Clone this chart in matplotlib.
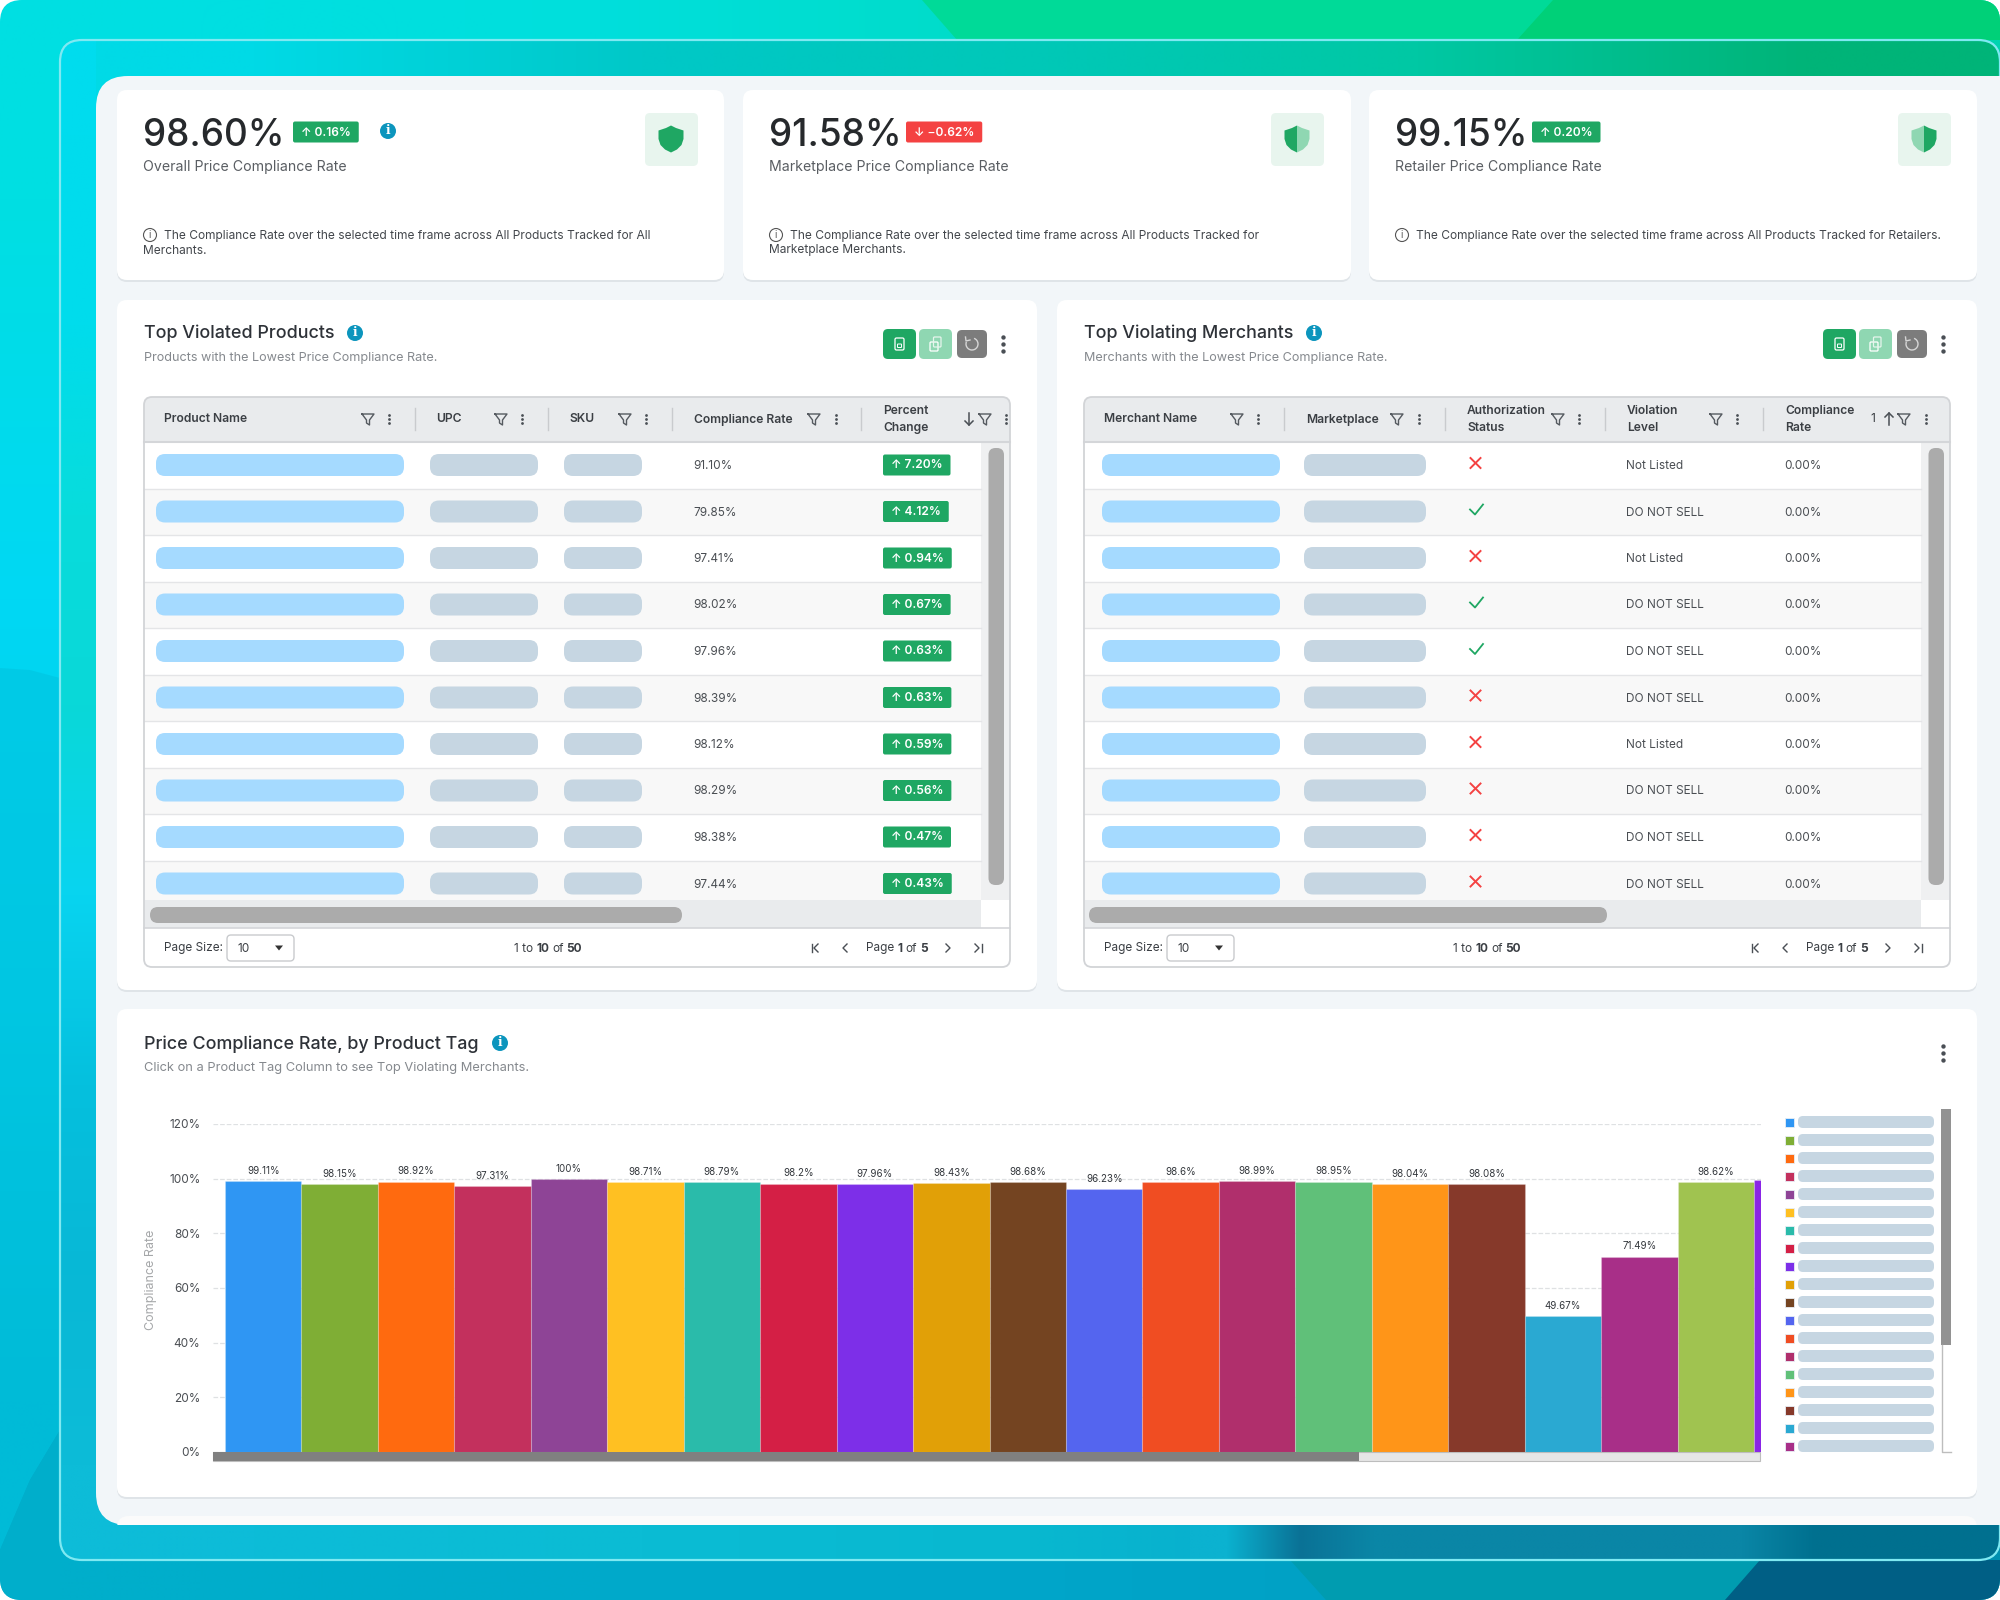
import matplotlib
matplotlib.use('Agg')
import matplotlib.pyplot as plt
import numpy as np
from matplotlib.patches import FancyBboxPatch, Circle, Polygon, Rectangle, Arc

# ---- data ----
kpi_values = ['98.60%', '91.58%', '99.15%']
kpi_changes = ['↑ 0.16%', '↓ −0.62%', '↑ 0.20%']
kpi_labels = ['Overall Price Compliance Rate', 'Marketplace Price Compliance Rate', 'Retailer Price Compliance Rate']
kpi_notes = [['The Compliance Rate over the selected time frame across All Products Tracked for All', 'Merchants.'],
             ['The Compliance Rate over the selected time frame across All Products Tracked for', 'Marketplace Merchants.'],
             ['The Compliance Rate over the selected time frame across All Products Tracked for Retailers.']]

product_rates = ['91.10%', '79.85%', '97.41%', '98.02%', '97.96%', '98.39%', '98.12%', '98.29%', '98.38%', '97.44%']
product_changes = ['7.20%', '4.12%', '0.94%', '0.67%', '0.63%', '0.63%', '0.59%', '0.56%', '0.47%', '0.43%']

merchant_auth = [0, 1, 0, 1, 1, 0, 0, 0, 0, 0]
merchant_levels = ['Not Listed', 'DO NOT SELL', 'Not Listed', 'DO NOT SELL', 'DO NOT SELL',
                   'DO NOT SELL', 'Not Listed', 'DO NOT SELL', 'DO NOT SELL', 'DO NOT SELL']
merchant_rates = ['0.00%'] * 10

tag_values = [99.11, 98.15, 98.92, 97.31, 100, 98.71, 98.79, 98.2, 97.96, 98.43, 98.68,
              96.23, 98.6, 98.99, 98.95, 98.04, 98.08, 49.67, 71.49, 98.62, 99.4]
tag_colors = ['#2f96f3', '#7fae35', '#ff6a0f', '#c3305d', '#8e4496', '#ffc022', '#2abbaa',
              '#d41f45', '#7d2fe8', '#e1a007', '#744421', '#5465ef', '#f04d22', '#b02f6c',
              '#60c079', '#ff9518', '#86392a', '#2aa9d2', '#a82f88', '#a0c350', '#8a25e6']
y_ticks = [0, 20, 40, 60, 80, 100, 120]

GREEN = '#1fa763'
RED = '#f44242'
BLUE_PILL = '#a5daff'
GREY_PILL = '#c6d6e2'
INK = '#3b3f44'
FONT = ['Inter', 'DejaVu Sans']

plt.rcParams['font.family'] = FONT
fig = plt.figure(figsize=(20, 16), dpi=100, facecolor='white')
ax = fig.add_axes([0, 0, 1, 1])
ax.set_axis_off()


def rrect(x0, y0, x1, y1, r, fc='none', ec='none', lw=0, z=2, **kw):
    p = FancyBboxPatch((x0, y0), x1 - x0, y1 - y0, boxstyle=f'round,pad=0,rounding_size={r}',
                       fc=fc, ec=ec, lw=lw, zorder=z, **kw)
    ax.add_patch(p)
    return p


def txt(x, y, s, size=8.7, color=INK, weight='normal', ha='left', z=6, **kw):
    # the font sits a bit high in its box
    return ax.text(x, y + 1.5, s, fontsize=size, color=color, fontweight=weight, ha=ha, va='center', zorder=z, **kw)


def gradient(colors, extent, clip, z=1):
    rgb = np.array([[matplotlib.colors.to_rgb(c) for c in row] for row in colors])
    im = ax.imshow(rgb, extent=extent, interpolation='bilinear', aspect='auto', zorder=z)
    im.set_clip_path(clip)


def shape(points, clip, fc, alpha=1.0):
    p = Polygon(points, fc=fc, ec='none', alpha=alpha, zorder=1)
    ax.add_patch(p)
    p.set_clip_path(clip)


def run_text(x, y, parts, size, center=False):
    # bold and regular pieces written one after the other
    rend = fig.canvas.get_renderer()
    items = []
    cur = x
    for s, w in parts:
        t = txt(cur, y, s, size=size, weight=w)
        cur += t.get_window_extent(rend).width + 3
        items.append(t)
    if center:
        shift = (cur - 3 - x) / 2
        for t in items:
            t.set_x(t.get_position()[0] - shift)


def badge(x, y, s, color, size=8.5, h=21):
    rend = fig.canvas.get_renderer()
    t = txt(x + 8, y - 1, s, size=size, color='white', weight='semibold', z=7)
    w = t.get_window_extent(rend).width
    rrect(x, y - h / 2, x + w + 16, y + h / 2, 2, fc=color, z=6)


def info_dot(x, y, r=8):
    ax.add_patch(Circle((x, y), r, fc='#0c95bd', ec='none', zorder=6))
    txt(x, y - 1.5, 'i', size=r * 1.1, color='white', weight='bold', ha='center', z=7, family='DejaVu Serif')


def funnel(x, y):
    ax.plot([x - 6, x + 6, x + 1.5, x + 1.5, x - 1.5, x - 1.5, x - 6], [y - 5, y - 5, y + 1, y + 6, y + 4, y + 1, y - 5],
            color='#555a60', lw=1.0, zorder=6)


def menu_dots(x, y, c='#4a4f55', gap=4.5, s=4):
    ax.scatter([x, x, x], [y - gap, y, y + gap], s=s, color=c, zorder=6, lw=0)


def shield(cx, cy, left, right):
    half = [(0, -13.5), (5, -11), (12.5, -8.5), (12.5, 0), (10.5, 6), (6, 10.5), (0, 13.5)]
    ax.add_patch(Polygon([(cx - a, cy + b) for a, b in half], fc=left, ec='none', zorder=6))
    ax.add_patch(Polygon([(cx + a, cy + b) for a, b in half], fc=right, ec='none', zorder=6))


def arrow_head(x, y, d, c='#4a4f55', bar=False):
    ax.plot([x - d * 2, x + d * 2, x - d * 2], [y - 4, y, y + 4], color=c, lw=1.0, zorder=6)
    if bar:
        ax.plot([x + d * 4.5] * 2, [y - 4, y + 4], color=c, lw=1.0, zorder=6)


# ---- background ----
outer = rrect(0, 0, 2000, 1600, 22, fc='none')
gradient([['#00dfe2', '#00dfdc', '#00dcc8', '#00dcc4', '#00d4b0'],
          ['#00d8f4', '#00d2e4', '#00c8d0', '#00b8c0', '#00a0a0'],
          ['#00cbe6', '#00c4dc', '#00b8d0', '#009cc0', '#007c9c'],
          ['#00aecb', '#00aacb', '#00a6ca', '#00a0c4', '#0090b0']],
         (0, 2000, 1600, 0), outer)
shape([(922, 0), (957, 40), (2000, 40), (2000, 0)], outer, '#00da98')
shape([(1553, 0), (1517, 40), (2000, 40), (2000, 0)], outer, '#00d078')
shape([(0, 668), (30, 670), (60, 678), (60, 1430), (30, 1480), (0, 1550)], outer, '#00c4e0', 0.6)
shape([(0, 1550), (30, 1480), (60, 1430), (60, 1600), (0, 1600)], outer, '#00aecb')
shape([(1290, 1560), (1326, 1600), (2000, 1600), (2000, 1560)], outer, '#009cb0')
shape([(1760, 1560), (1725, 1600), (2000, 1600), (2000, 1560)], outer, '#005f85')

inner_fill = rrect(60, 40, 2000, 1560, 22, fc='none')
gradient([['#00dae6', '#00c8c8', '#00c8b8', '#00c8a4', '#00b478'],
          ['#05d8e0', '#05d0d8', '#05c0c8', '#05a8b0', '#0090a0'],
          ['#08d4f2', '#08c8e0', '#08b8d0', '#0890b0', '#007a98'],
          ['#0dbcd8', '#0bbcd4', '#08b8d0', '#08a8cc', '#0a90b0']],
         (60, 2000, 1560, 40), inner_fill)
gradient([[c] for c in ['#00dcee', '#00dcec', '#08dcdc', '#0ad8d8', '#08d4f0', '#05c0de', '#08b8d6', '#0dbcd8']],
         (60, 96, 1560, 40), inner_fill, z=1.2)
gradient([['#0bb2d0', '#0a7296'] + ['#0a86a6'] * 6 + ['#00708f'] * 3], (1190, 2000, 1560, 1525), inner_fill, z=1.2)
rrect(60, 40, 2000, 1560, 22, ec='#7fe9f2', lw=1.6, z=2)
rrect(96, 76, 2060, 1525, 32, fc='#f2f6f9', z=3)
rrect(117, 1516, 1977, 1560, 12, fc='#fbfbfb', z=3).set_clip_path(Rectangle((0, 0), 2000, 1525, transform=ax.transData))


def card(x0, y0, x1, y1):
    rrect(x0, y0 + 2, x1, y1 + 2, 10, fc='#dfe4e8', z=3)
    rrect(x0, y0, x1, y1, 10, fc='white', z=4)


# ---- kpi cards ----
card_x = [117, 743, 1369]
card_r = [724, 1351, 1977]
badge_x = [293, 906, 1532]
shield_cx = [671, 1297, 1924]
shield_cols = [(GREEN, GREEN), (GREEN, '#8fd7b2'), ('#8fd7b2', GREEN)]
for i in range(3):
    x = card_x[i]
    card(x, 90, card_r[i], 280)
    txt(x + 26, 134.5, kpi_values[i], size=26.6, color='#26292c', weight='medium')
    badge(badge_x[i], 132, kpi_changes[i], RED if '↓' in kpi_changes[i] else GREEN, size=8.6)
    txt(x + 26, 166, kpi_labels[i], size=10.2, color='#5a5e63')
    rrect(shield_cx[i] - 26, 113, shield_cx[i] + 27, 166, 5, fc='#e8f5ee', z=5)
    shield(shield_cx[i], 139, shield_cols[i][0], shield_cols[i][1])
    ax.add_patch(Circle((x + 33, 235), 6.5, fc='none', ec='#555', lw=0.8, zorder=6))
    txt(x + 33, 234, 'i', size=7, color='#555', ha='center')
    for j, line in enumerate(kpi_notes[i]):
        txt(x + 47 if j == 0 else x + 26, 234 + 15 * j, line, size=8.6, color='#43474c')
info_dot(388, 131)


# ---- tables ----
def toolbar_icons(cx1, cx2, cx3):
    rrect(cx1 - 4.5, 338, cx1 + 4.5, 350, 1.5, ec='white', lw=0.9, z=6)
    rrect(cx1 - 2, 344, cx1 + 2, 347.5, 0.5, ec='white', lw=0.7, z=6)
    rrect(cx2 - 5.5, 342, cx2 + 2.5, 351, 1, ec='white', lw=0.9, z=6)
    rrect(cx2 - 2, 337, cx2 + 5.5, 347, 1, ec='#e6f5ec', lw=0.9, z=6)
    ax.add_patch(Arc((cx3, 344), 12, 12, theta1=-70, theta2=200, ec='#d6d6d6', lw=1, zorder=6))
    ax.plot([cx3 - 6.5, cx3 - 6, cx3 - 2], [337, 341, 340], color='#d6d6d6', lw=1, zorder=6)


def table(x0, x1, title, sub, info_x, cols, pill_cols, h_thumb, foot):
    card(x0, 300, x1, 990)
    bx = x0 + 27
    tx1 = x1 - 27
    txt(bx - 0.5, 332, title, size=12.9, color='#2e3238', weight='medium')
    info_dot(info_x, 333)
    txt(bx - 0.5, 356.5, sub, size=9.1, color='#85898e')
    for a, b, c in [(tx1 - 127, tx1 - 94, GREEN), (tx1 - 91, tx1 - 58, '#8fd7b2')]:
        rrect(a, 329, b, 359, 5, fc=c, z=5)
    rrect(tx1 - 53, 330, tx1 - 23, 358, 5, fc='#7c7c7c', z=5)
    toolbar_icons(tx1 - 110.5, tx1 - 74.5, tx1 - 38)
    menu_dots(tx1 - 7, 344, gap=7, s=10)

    shell = rrect(bx, 397, tx1, 967, 8, fc='white', z=5)
    head = Rectangle((bx, 397), tx1 - bx, 45, fc='#e9ebed', zorder=5)
    ax.add_patch(head)
    head.set_clip_path(shell)
    ax.plot([bx, tx1], [441.5, 441.5], color='#d4d6d9', lw=1.5, zorder=6)
    for s, tx, fx, dx, sep in cols:
        if isinstance(s, tuple):
            txt(tx, 409.5, s[0], size=8.7, weight='semibold')
            txt(tx, 426.5, s[1], size=8.7, weight='semibold')
        else:
            txt(tx, 418, s, size=8.7, weight='semibold')
        funnel(fx, 419)
        menu_dots(dx, 419, gap=4)
        if sep:
            ax.plot([sep, sep], [408, 430], color='#c9cbce', lw=1, zorder=6)

    vx = tx1 - 29
    for i in range(10):
        top = 442 + 46.5 * i
        bot = min(top + 46.5, 900)
        ax.add_patch(Rectangle((bx, top), vx - bx, bot - top, fc='white' if i % 2 == 0 else '#f8f8f8', zorder=5))
        if i < 9:
            ax.plot([bx, vx], [bot, bot], color='#e4e5e7', lw=1, zorder=6)
        yc = 465 + 46.5 * i
        for (a, b), c in zip(pill_cols, [BLUE_PILL, GREY_PILL, GREY_PILL]):
            rrect(a, yc - 11, b, yc + 11, 9, fc=c, z=6)

    ax.add_patch(Rectangle((vx, 442), 29, 458, fc='#eff0f1', zorder=5))
    rrect(vx + 7.5, 448, vx + 23, 885, 7, fc='#ababab', z=6)
    ax.add_patch(Rectangle((bx, 900), vx - bx, 28, fc='#e9ebed', zorder=5))
    rrect(h_thumb[0], 907, h_thumb[1], 923, 8, fc='#ababab', z=6)
    ax.plot([bx, tx1], [928, 928], color='#d4d6d9', lw=1.2, zorder=6)

    fy = 948
    txt(bx + 20, fy - 1, 'Page Size:', size=8.5)
    rrect(bx + 83, 935, bx + 150, 961, 4, fc='white', ec='#c9cbce', lw=1, z=6)
    txt(bx + 94, fy - 1, '10', size=8.5)
    ax.add_patch(Polygon([(bx + 131, fy - 2.5), (bx + 139, fy - 2.5), (bx + 135, fy + 2.5)], fc='#333', ec='none', zorder=7))
    run_text(foot, fy - 1, [('1 to', 'normal'), ('10', 'bold'), ('of', 'normal'), ('50', 'bold')], 8.5, center=True)
    nav = tx1 - 194
    arrow_head(nav, fy, -1, bar=True)
    arrow_head(nav + 29, fy, -1)
    run_text(nav + 50, fy - 1, [('Page', 'normal'), ('1', 'bold'), ('of', 'normal'), ('5', 'bold')], 8.5)
    arrow_head(nav + 132, fy, 1)
    arrow_head(nav + 161, fy, 1, bar=True)
    rrect(bx, 397, tx1, 967, 8, ec='#d2d4d7', lw=1.3, z=8)


product_cols = [('Product Name', 164, 368, 389, 415), ('UPC', 436, 501, 522, 548), ('SKU', 569, 625, 646, 672),
                ('Compliance Rate', 694, 814, 836, 861), (('Percent', 'Change'), 883, 985, 1006, None)]
table(117, 1037, 'Top Violated Products', 'Products with the Lowest Price Compliance Rate.', 355, product_cols,
      [(156, 404), (430, 538), (564, 642)], (150, 682), 548)
ax.plot([969, 969], [413, 425], color='#4a4f55', lw=1.1, zorder=6)
ax.plot([965, 969, 973], [421, 425, 421], color='#4a4f55', lw=1.1, zorder=6)
for i in range(10):
    yc = 465 + 46.5 * i
    txt(693, yc - 0.5, product_rates[i], size=8.5, color='#4a4e53')
    badge(883, yc, '↑ ' + product_changes[i], GREEN, size=8.6)

merchant_cols = [('Merchant Name', 1104, 1237, 1258, 1284), ('Marketplace', 1306, 1397, 1419, 1445),
                 (('Authorization', 'Status'), 1467, 1558, 1579, 1605), (('Violation', 'Level'), 1627, 1716, 1737, 1763),
                 (('Compliance', 'Rate'), 1785, 1904, 1926, None)]
table(1057, 1977, 'Top Violating Merchants', 'Merchants with the Lowest Price Compliance Rate.', 1314, merchant_cols,
      [(1102, 1280), (1304, 1426)], (1089, 1607), 1487)
txt(1873, 418, '1', size=8.7, ha='center')
ax.plot([1889, 1889], [413, 425], color='#4a4f55', lw=1.1, zorder=6)
ax.plot([1885, 1889, 1893], [417, 413, 417], color='#4a4f55', lw=1.1, zorder=6)
for i in range(10):
    yc = 465 + 46.5 * i
    if merchant_auth[i]:
        ax.plot([1470, 1475, 1483], [yc - 2, yc + 3, yc - 7], color=GREEN, lw=1.3, zorder=7)
    else:
        ax.plot([1470.5, 1480.5], [yc - 7, yc + 3], color=RED, lw=1.4, zorder=7)
        ax.plot([1470.5, 1480.5], [yc + 3, yc - 7], color=RED, lw=1.4, zorder=7)
    txt(1626, yc - 0.5, merchant_levels[i], size=8.5, color='#4a4e53')
    txt(1784, yc - 0.5, merchant_rates[i], size=8.5, color='#4a4e53')

# ---- chart card chrome ----
card(117, 1009, 1977, 1497)
txt(143.5, 1043, 'Price Compliance Rate, by Product Tag', size=12.9, color='#2e3238', weight='medium')
info_dot(500, 1043)
txt(143.5, 1066.5, 'Click on a Product Tag Column to see Top Violating Merchants.', size=9.25, color='#85898e')
menu_dots(1943, 1053, gap=7, s=10)

legend_clip = Rectangle((1780, 1100), 170, 352, transform=ax.transData)
for i, c in enumerate(tag_colors[:19]):
    yc = 1122 + 18 * i
    m = Rectangle((1785, yc - 4.5), 9, 9, fc=c, ec='#e8eef5', lw=0.6, zorder=6)
    ax.add_patch(m)
    m.set_clip_path(legend_clip)
    rrect(1798, yc - 6, 1934, yc + 6, 5, fc=GREY_PILL, z=6).set_clip_path(legend_clip)
ax.add_patch(Rectangle((1941, 1109), 10, 236, fc='#929292', zorder=6))
ax.plot([1951, 1941.5, 1941.5], [1452, 1452, 1345], color='#bdbdbd', lw=1, zorder=6)

ax.add_patch(Rectangle((213, 1452), 1547, 9, fc='#e6e6e6', ec='#bdbdbd', lw=0.8, zorder=6))
ax.add_patch(Rectangle((213, 1452), 1146, 9, fc='#808080', zorder=7))

ax.set_xlim(0, 2000)
ax.set_ylim(1600, 0)

# ---- the bar chart itself ----
chart = fig.add_axes([213 / 2000, 1 - 1452 / 1600, (1761 - 213) / 2000, (1452 - 1124) / 1600])
chart.patch.set_alpha(0)
chart.bar(range(len(tag_values)), tag_values, width=1.0, color=tag_colors, edgecolor=(1, 1, 1, 0.2), linewidth=0.8, zorder=3)
for i, v in enumerate(tag_values[:20]):
    chart.annotate(f'{v:g}%', (i, v), xytext=(0, 7.3), textcoords='offset points', ha='center', va='center',
                   fontsize=7, color='#33373c')
chart.set_xlim(-0.657, 19.59)
chart.set_ylim(0, 120)
chart.set_xticks([])
chart.set_yticks(y_ticks)
chart.set_yticklabels([f'{v}%' for v in y_ticks], fontsize=8.5, color='#4a4e53')
chart.tick_params(axis='y', length=0, pad=9)
chart.grid(axis='y', color='#dfe1e3', linestyle='--', linewidth=0.9, zorder=0)
chart.set_axisbelow(True)
for s in chart.spines.values():
    s.set_visible(False)
chart.set_ylabel('Compliance Rate', fontsize=9, color='#a5a7a9')
chart.yaxis.set_label_coords((157 - 213) / 1548, 0.524)

fig.savefig('out.png', dpi=100)
